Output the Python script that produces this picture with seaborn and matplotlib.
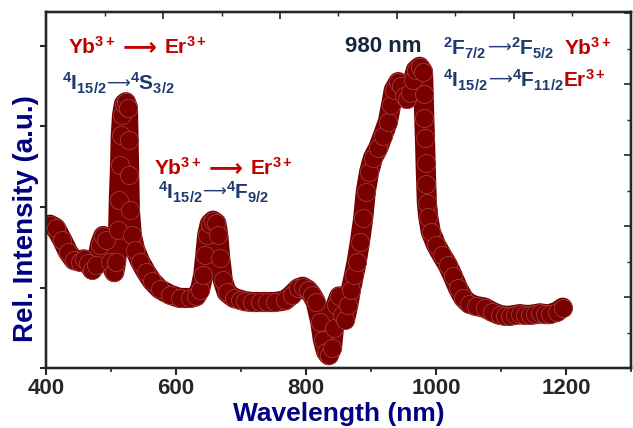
import matplotlib
matplotlib.use("Agg")
import matplotlib.pyplot as plt
import numpy as np
import pandas as pd
import seaborn as sns
from matplotlib.ticker import MultipleLocator

# upconversion emission spectrum
wavelength = [406, 415, 425, 434, 443, 452, 458, 465, 471, 477, 483, 488, 492, 498,
              505, 508, 511, 512, 514, 515, 517, 520, 523, 526, 527, 528, 529, 532,
              537, 545, 554, 563, 575, 591, 606, 622, 631, 637, 642, 645, 648, 652,
              657, 662, 665, 668, 672, 678, 689, 698, 706, 717, 729, 740, 752, 768, 778, 788, 795,
              803, 809, 815, 822, 826, 831, 835, 840, 843, 846, 851, 855, 860, 865,
              869, 874, 878, 883, 888, 892, 897, 903, 911, 918, 926, 931, 935, 942,
              946, 951, 955, 960, 965, 969, 975, 980, 981, 982, 983, 984, 985, 986,
              988, 992, 1000, 1009, 1018, 1026, 1034, 1042, 1051, 1062, 1075, 1086,
              1098, 1106, 1114, 1122, 1129, 1137, 1145, 1153, 1160, 1168, 1175, 1186, 1195]
intensity = [1.78, 1.74, 1.59, 1.44, 1.34, 1.32, 1.35, 1.30, 1.22, 1.28, 1.53, 1.64, 1.59, 1.32,
             1.19, 1.32, 1.71, 2.09, 2.52, 2.89, 3.14, 3.28, 3.30, 3.23, 2.83, 2.40, 1.96, 1.65,
             1.47, 1.32, 1.19, 1.08, 0.98, 0.91, 0.87, 0.87, 0.89, 0.97, 1.16, 1.40, 1.65, 1.79,
             1.83, 1.80, 1.65, 1.37, 1.09, 0.94, 0.87, 0.85, 0.83, 0.82, 0.82, 0.82, 0.82, 0.84, 0.91, 0.99, 1.01,
             0.97, 0.91, 0.82, 0.57, 0.35, 0.20, 0.16, 0.25, 0.50, 0.78, 0.89, 0.66, 0.60, 0.78,
             0.97, 1.16, 1.32, 1.57, 1.86, 2.19, 2.43, 2.61, 2.73, 2.88, 3.06, 3.27, 3.45, 3.55,
             3.50, 3.38, 3.34, 3.42, 3.58, 3.70, 3.74, 3.68, 3.40, 3.10, 2.85, 2.55, 2.28, 2.05,
             1.88, 1.69, 1.53, 1.40, 1.28, 1.14, 0.99, 0.87, 0.80, 0.77, 0.75, 0.70,
             0.66, 0.65, 0.65, 0.66, 0.67, 0.66, 0.66, 0.67, 0.68, 0.67, 0.67, 0.70, 0.75]

df = pd.DataFrame({"Wavelength": wavelength, "Intensity": intensity})

sns.set_style("ticks")
plt.rcParams["font.family"] = ["Liberation Sans", "DejaVu Sans"]
plt.rcParams["font.weight"] = "bold"
plt.rcParams["mathtext.fontset"] = "custom"
plt.rcParams["mathtext.rm"] = "Liberation Sans:bold"
plt.rcParams["mathtext.bf"] = "Liberation Sans:bold"
plt.rcParams["mathtext.it"] = "Liberation Sans:bold"
plt.rcParams["mathtext.fallback"] = "stixsans"

dark_red = "#7a0000"
navy = "#1f3a6e"
red = "#c00000"

fig = plt.figure(figsize=(6.33, 4.28), dpi=100)
ax = fig.add_axes([0.0727, 0.140, 0.9241, 0.832])

sns.lineplot(data=df, x="Wavelength", y="Intensity", ax=ax, color=dark_red,
             linewidth=14.5, estimator=None, sort=False,
             solid_joinstyle="round", solid_capstyle="round")
sns.scatterplot(data=df, x="Wavelength", y="Intensity", ax=ax, s=170,
                color=dark_red, edgecolor="#a04848", linewidth=0.5, zorder=3)

ax.set_xlim(400, 1300)
ax.set_ylim(0, 4.42)
ax.xaxis.set_major_locator(MultipleLocator(200))
ax.xaxis.set_minor_locator(MultipleLocator(100))
ax.yaxis.set_major_locator(MultipleLocator(1))
ax.set_yticklabels([])
ax.tick_params(axis="x", direction="out", length=5, width=1.5, labelsize=16, pad=2)
ax.tick_params(axis="x", which="minor", direction="out", length=3, width=1.2)
ax.tick_params(axis="y", direction="out", length=4, width=1.5)
for lab in ax.get_xticklabels():
    lab.set_fontweight("bold")
ax.set_xlabel("Wavelength (nm)", fontsize=19, fontweight="bold", color="#000080", labelpad=2)
ax.set_ylabel("Rel. Intensity (a.u.)", fontsize=20, fontweight="bold", color="#000080")
ax.yaxis.set_label_coords(-0.012, 0.42)
for sp in ax.spines.values():
    sp.set_linewidth(1.6)

# top and right frame ticks (inward, independent spacing)
top = ax.twiny()
top.set_xlim(0, 10)
top.xaxis.set_major_locator(MultipleLocator(2))
top.xaxis.set_minor_locator(MultipleLocator(1))
top.tick_params(axis="x", which="major", direction="in", length=5, width=1.2, labeltop=False)
top.tick_params(axis="x", which="minor", direction="in", length=3, width=1.0)
right = ax.twinx()
right.set_ylim(0, 10.03)
right.yaxis.set_major_locator(MultipleLocator(2))
right.yaxis.set_minor_locator(MultipleLocator(1))
right.tick_params(axis="y", which="major", direction="in", length=5, width=1.2, labelright=False)
right.tick_params(axis="y", which="minor", direction="in", length=3, width=1.0)
for a in (top, right):
    for sp in a.spines.values():
        sp.set_linewidth(1.6)

fs = 15


def chain(x, y, left, right_txt, color, arrow_size, arrow_weight, gap):
    t1 = ax.text(x, y, left, transform=ax.transAxes,
                 color=color, fontsize=fs, va="center", ha="left")
    t2 = ax.annotate("\u27f6", xy=(1, 0.5), xycoords=t1, xytext=(gap, 0),
                     textcoords="offset points", color=color, fontsize=arrow_size,
                     fontfamily=["DejaVu Sans"], fontweight=arrow_weight,
                     va="center", ha="left")
    return ax.annotate(right_txt, xy=(1, 0.5), xycoords=t2, xytext=(gap, 0),
                       textcoords="offset points", color=color, fontsize=fs,
                       va="center", ha="left")


chain(0.038, 0.902, r"$\mathbf{Yb^{3+}}$", r"$\mathbf{Er^{3+}}$", red, fs + 2, "bold", 5)
chain(0.027, 0.800, r"$\mathbf{^4I_{15/2}}$", r"$\mathbf{^4S_{3/2}}$", navy, 12, "normal", 0)
chain(0.185, 0.562, r"$\mathbf{Yb^{3+}}$", r"$\mathbf{Er^{3+}}$", red, fs + 2, "bold", 5)
chain(0.191, 0.494, r"$\mathbf{^4I_{15/2}}$", r"$\mathbf{^4F_{9/2}}$", navy, 12, "normal", 0)
ax.text(0.511, 0.904, "980 nm", transform=ax.transAxes, color="#17263f", fontsize=fs + 1,
        fontweight="bold", va="center", ha="left")
t6 = chain(0.679, 0.899, r"$\mathbf{^2F_{7/2}}$", r"$\mathbf{^2F_{5/2}}$", navy, 12, "normal", 0)
ax.annotate(r"$\mathbf{Yb^{3+}}$", xy=(1, 0.5), xycoords=t6, xytext=(7, 0),
            textcoords="offset points", color=red, fontsize=fs, va="center", ha="left")
t7 = chain(0.679, 0.809, r"$\mathbf{^4I_{15/2}}$", r"$\mathbf{^4F_{11/2}}$", navy, 12, "normal", 0)
ax.annotate(r"$\mathbf{Er^{3+}}$", xy=(1, 0.5), xycoords=t7, xytext=(0, 0),
            textcoords="offset points", color=red, fontsize=fs, va="center", ha="left")

fig.savefig("out.png", dpi=100)
